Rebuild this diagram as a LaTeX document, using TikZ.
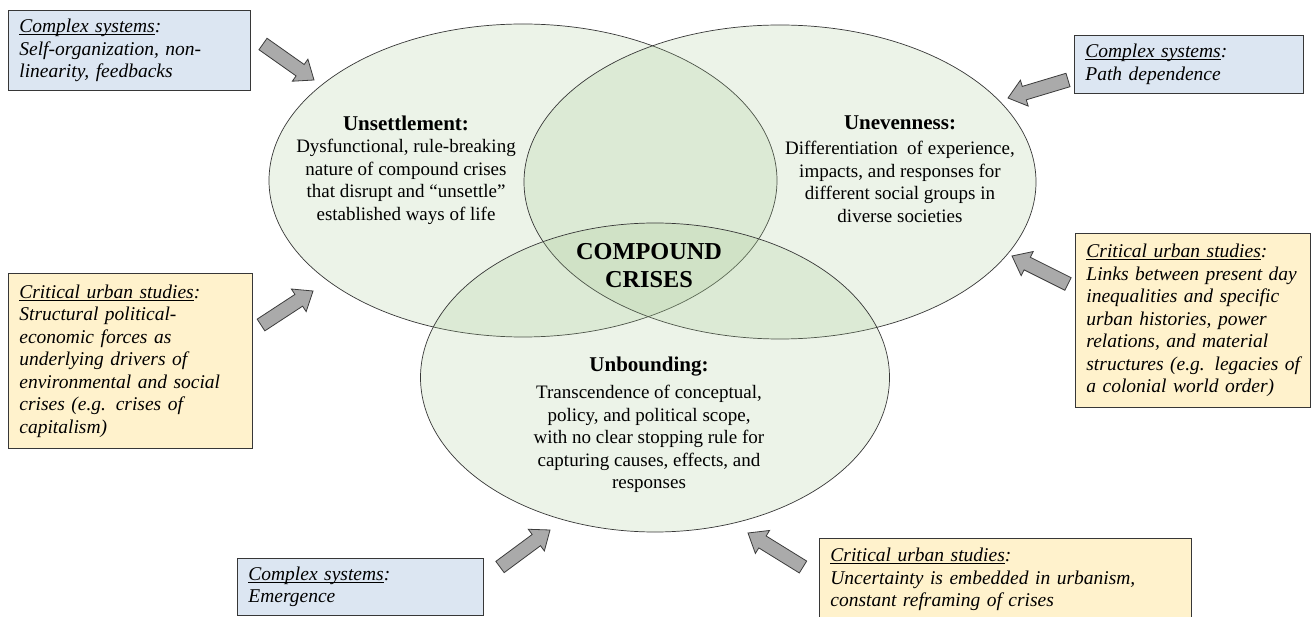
\documentclass[tikz,border=0pt]{standalone}
\usepackage{fontspec}
\setmainfont{Liberation Serif}
\usetikzlibrary{shapes.geometric,calc}
\definecolor{vennfill}{RGB}{160,198,140}
\definecolor{vennline}{RGB}{55,55,55}
\definecolor{csblue}{RGB}{220,230,242}
\definecolor{cuyellow}{RGB}{255,242,204}
\definecolor{boxline}{RGB}{55,55,55}
\definecolor{arrfill}{RGB}{170,170,170}
\definecolor{arrline}{RGB}{60,60,60}
\newcommand\ulhead[1]{\setbox0\hbox{#1}\rlap{\rule[-2.2pt]{\wd0}{0.7pt}}\box0}
\newcommand\blockarrow[2]{%
  \coordinate (#2-b) at ($(#2)!17pt!(#1)$);
  \draw[blockarr] ($(#1)!7pt!90:(#2)$) -- ($(#2-b)!7pt!90:(#2)$) -- ($(#2-b)!13.5pt!90:(#2)$) -- (#2)
     -- ($(#2-b)!13.5pt!-90:(#2)$) -- ($(#2-b)!7pt!-90:(#2)$) -- ($(#1)!7pt!-90:(#2)$) -- cycle;}
\begin{document}
\begin{tikzpicture}[x=1pt,y=-1pt,
  venn/.style={ellipse, draw=vennline, line width=0.7pt, fill=vennfill, fill opacity=0.2, draw opacity=1, inner sep=0pt},
  vtitle/.style={font=\fontsize{21}{24}\selectfont\bfseries, align=center, inner sep=0pt},
  vbody/.style={font=\fontsize{19}{22.5}\selectfont, align=center, inner sep=0pt},
  core/.style={font=\fontsize{24.3}{28}\selectfont\bfseries, align=center, inner sep=0pt},
  infobox/.style={draw=boxline, line width=0.8pt, anchor=north west, inner xsep=11pt, inner ysep=0pt, align=left, font=\fontsize{19.5}{22.5}\selectfont\itshape},
  csbox/.style={infobox, fill=csblue},
  cubox/.style={infobox, fill=cuyellow},
  blockarr/.style={fill=arrfill, draw=arrline, line width=0.8pt, line join=miter},
]
\useasboundingbox (0,0) rectangle (1312,617);
\fill[white] (0,0) rectangle (1312,617);

% Venn ellipses
\node[venn, minimum width=508pt, minimum height=313pt] (unsettle) at (523,180.5) {};
\node[venn, minimum width=512pt, minimum height=314pt] (uneven) at (780,182) {};
\node[venn, minimum width=469pt, minimum height=309pt] (unbound) at (655,377.5) {};

% Venn texts
\node[vtitle] (t-unsettle) at (406,123) {Unsettlement:};
\node[vbody] (b-unsettle) at (406,182) {Dysfunctional, rule-breaking\\nature of compound crises\\that disrupt and “unsettle”\\established ways of life};
\node[vtitle] (t-uneven) at (900,123) {Unevenness:};
\node[vbody] (b-uneven) at (900,182) {Differentiation\ \ of experience,\\impacts, and responses for\\different social groups in\\diverse societies};
\node[vtitle] (t-unbound) at (649,367) {Unbounding:};
\node[vbody] (b-unbound) at (649,439) {Transcendence of conceptual,\\policy, and political scope,\\with no clear stopping rule for\\capturing causes, effects, and\\responses};
\node[core] (core) at (649,266) {COMPOUND\\CRISES};

% Info boxes
\node[csbox, minimum width=242pt, text width=220pt, minimum height=80pt] (cs-tl) at (8,10)
  {\ulhead{Complex systems}:\\Self-organization, non-\\linearity, feedbacks};
\node[csbox, minimum width=229pt, text width=207pt, minimum height=58pt] (cs-tr) at (1074,35)
  {\ulhead{Complex systems}:\\Path dependence};
\node[cubox, minimum width=244pt, text width=222pt, minimum height=175pt] (cu-l) at (8,273)
  {\ulhead{Critical urban studies}:\\Structural political-\\economic forces as\\underlying drivers of\\\mbox{environmental and social}\\crises (e.g. crises of\\capitalism)};
\node[cubox, minimum width=235pt, text width=213pt, minimum height=174pt] (cu-r) at (1075,233)
  {\ulhead{Critical urban studies}:\\\mbox{Links between present day}\\inequalities and specific\\urban histories, power\\relations, and material\\\mbox{structures (e.g. legacies of}\\a colonial world order)};
\node[csbox, minimum width=246pt, text width=224pt, minimum height=57pt] (cs-b) at (237,558)
  {\ulhead{Complex systems}:\\Emergence};
\node[cubox, minimum width=372pt, text width=350pt, minimum height=82pt] (cu-b) at (819,538)
  {\ulhead{Critical urban studies}:\\Uncertainty is embedded in urbanism,\\constant reframing of crises};

% Arrows
\coordinate (a1t) at (263,44);   \coordinate (a1h) at (314,80);
\coordinate (a2t) at (261,325);  \coordinate (a2h) at (313,291);
\coordinate (a3t) at (1068,80);  \coordinate (a3h) at (1008,98);
\coordinate (a4t) at (1068,284); \coordinate (a4h) at (1012,256);
\coordinate (a5t) at (500,567);  \coordinate (a5h) at (550,530);
\coordinate (a6t) at (803,567);  \coordinate (a6h) at (748,533);
\blockarrow{a1t}{a1h}
\blockarrow{a2t}{a2h}
\blockarrow{a3t}{a3h}
\blockarrow{a4t}{a4h}
\blockarrow{a5t}{a5h}
\blockarrow{a6t}{a6h}
\end{tikzpicture}
\end{document}
